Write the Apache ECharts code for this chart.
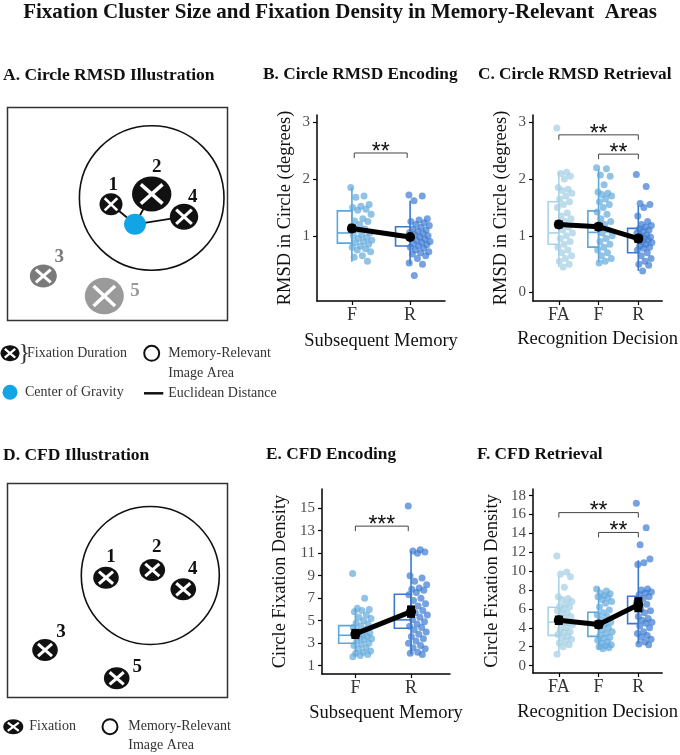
<!DOCTYPE html>
<html>
<head>
<meta charset="utf-8">
<title>Fixation Cluster Size and Fixation Density</title>
<script src="https://cdn.jsdelivr.net/npm/echarts@6/dist/echarts.min.js"></script>
<style>
html, body { margin: 0; padding: 0; background: #fff; }
#main { width: 680px; height: 755px; }
</style>
</head>
<body>
<div id="main"></div>
<script>
// ---- values ----
// B. Circle RMSD Encoding
var encCats = ['F', 'R'];
var rmsdEncF = [1.85, 1.7, 1.68, 1.55, 1.52, 1.5, 1.47, 1.45, 1.38, 1.3, 1.26, 1.25, 1.2, 1.17, 1.12, 1.1, 1.05,
  1.02, 1.0, 0.97, 0.95, 0.92, 0.9, 0.88, 0.85, 0.82, 0.8, 0.77, 0.75, 0.72, 0.65, 0.62, 0.55];
var rmsdEncR = [1.72, 1.7, 1.62, 1.3, 1.28, 1.25, 1.23, 1.2, 1.18, 1.15, 1.12, 1.1, 1.08, 1.06, 1.04, 1.02, 1.0,
  0.98, 0.96, 0.94, 0.92, 0.9, 0.88, 0.86, 0.84, 0.82, 0.8, 0.78, 0.75, 0.72, 0.7, 0.68, 0.65, 0.6, 0.52, 0.5, 0.3];
// q1, median, q3, whisker low, whisker high
var rmsdEncBox = [[0.87, 1.05, 1.44, 0.54, 1.85], [0.82, 0.98, 1.16, 0.5, 1.62]];
var rmsdEncMean = [1.13, 0.98];
var rmsdEncSe = [0.07, 0.05];
var rmsdEncSig = [[1.04, 1.95, 2.46]];
var rmsdEncStars = ['**'];

// C. Circle RMSD Retrieval
var retCats = ['FA', 'F', 'R'];
var rmsdRetFA = [2.9, 2.12, 2.1, 2.05, 2.0, 1.85, 1.82, 1.8, 1.75, 1.7, 1.65, 1.6, 1.55, 1.5, 1.4, 1.35, 1.3,
  1.25, 1.2, 1.15, 1.1, 1.05, 1.0, 0.95, 0.9, 0.85, 0.8, 0.75, 0.7, 0.65, 0.6, 0.55, 0.5, 0.45];
var rmsdRetF = [2.2, 2.18, 2.07, 2.05, 1.9, 1.77, 1.75, 1.73, 1.7, 1.65, 1.6, 1.55, 1.5, 1.42, 1.38, 1.3, 1.25,
  1.2, 1.15, 1.1, 1.05, 1.0, 0.95, 0.9, 0.85, 0.8, 0.75, 0.7, 0.65, 0.6, 0.55, 0.52];
var rmsdRetR = [2.08, 1.87, 1.57, 1.55, 1.5, 1.35, 1.25, 1.2, 1.18, 1.15, 1.12, 1.1, 1.08, 1.05, 1.02, 1.0, 0.98,
  0.96, 0.94, 0.92, 0.9, 0.88, 0.85, 0.82, 0.8, 0.78, 0.75, 0.7, 0.65, 0.6, 0.55, 0.5, 0.48, 0.38];
var rmsdRetBox = [[0.85, 1.05, 1.6, 0.45, 2.12], [0.8, 1.06, 1.44, 0.53, 2.18], [0.7, 0.98, 1.13, 0.38, 1.53]];
var rmsdRetMean = [1.2, 1.16, 0.95];
var rmsdRetSe = [0.07, 0.07, 0.07];
var rmsdRetSig = [[1, 3, 2.78], [2, 3, 2.44]];
var rmsdRetStars = ['**', '**'];

// E. CFD Encoding
var cfdEncF = [9.2, 7.0, 6.1, 6.0, 5.9, 5.8, 5.5, 5.3, 5.2, 5.0, 4.8, 4.7, 4.5, 4.4, 4.2, 4.0, 3.9, 3.8, 3.7,
  3.6, 3.5, 3.4, 3.3, 3.2, 3.0, 2.9, 2.8, 2.6, 2.5, 2.3, 2.2, 2.1, 2.0, 1.9, 1.8];
var cfdEncR = [15.2, 11.3, 11.2, 11.1, 11.0, 9.0, 8.8, 8.5, 8.2, 7.9, 7.8, 7.7, 7.5, 7.3, 7.0, 6.8, 6.5, 6.3,
  6.1, 5.9, 5.7, 5.5, 5.3, 5.1, 4.9, 4.7, 4.5, 4.4, 4.2, 4.0, 3.8, 3.6, 3.4, 3.2, 3.0, 2.8, 2.6, 2.5, 2.2, 2.1, 2.0];
var cfdEncBox = [[2.99, 3.7, 4.56, 1.8, 6.1], [4.33, 5.07, 7.35, 2.0, 11.2]];
var cfdEncMean = [3.82, 5.8];
var cfdEncSe = [0.45, 0.55];
var cfdEncSig = [[1.0, 1.95, 13.4]];
var cfdEncStars = ['***'];

// F. CFD Retrieval
var cfdRetFA = [11.6, 9.9, 9.7, 9.4, 8.3, 7.3, 7.1, 7.0, 6.8, 6.5, 6.3, 6.2, 6.0, 5.8, 5.6, 5.5, 5.2, 5.0, 4.8,
  4.6, 4.5, 4.3, 4.0, 3.8, 3.6, 3.5, 3.3, 3.1, 3.0, 2.8, 2.6, 2.4, 2.2, 2.0, 1.2];
var cfdRetF = [8.1, 7.9, 7.7, 7.6, 7.4, 7.3, 7.2, 7.0, 6.8, 6.6, 6.2, 5.9, 5.6, 5.4, 5.2, 4.9, 4.6, 4.4, 4.2,
  4.0, 3.8, 3.6, 3.4, 3.2, 3.0, 2.9, 2.7, 2.5, 2.4, 2.2, 2.1, 2.0, 1.9, 1.8];
var cfdRetR = [17.2, 14.6, 12.8, 11.3, 10.9, 10.7, 8.1, 8.0, 7.8, 7.7, 7.5, 7.3, 7.1, 6.8, 6.5, 6.0, 5.8, 5.6,
  5.2, 5.0, 4.8, 4.6, 4.5, 4.2, 4.0, 3.6, 3.4, 3.2, 3.0, 2.8, 2.5, 2.3, 2.2];
var cfdRetBox = [[3.2, 4.6, 6.18, 1.4, 9.5], [3.1, 4.45, 5.65, 1.7, 8.3], [4.45, 6.0, 7.35, 2.3, 11.15]];
var cfdRetMean = [4.8, 4.35, 6.45];
var cfdRetSe = [0.5, 0.45, 0.8];
var cfdRetSig = [[1, 3, 16.2], [2, 3, 14.1]];
var cfdRetStars = ['**', '**'];

// ---- styling ----
var SERIF = '"Liberation Serif", "DejaVu Serif", serif';
var ptCol = { FA: '#a3cfe4', F: '#62aadc', R: '#3c7bd1' };
var boxCol = { FA: '#a9d4e8', F: '#5aa8dc', R: '#3a78d0' };

var panels = [
  { grid: { left: 317, top: 115, width: 128, height: 186 }, x: [0.4, 2.6], y: [-0.15, 3.13], yt: [1, 2, 3],
    cats: encCats, groups: [rmsdEncF, rmsdEncR], box: rmsdEncBox, mean: rmsdEncMean, se: rmsdEncSe,
    sig: rmsdEncSig, stars: rmsdEncStars, bw: 0.25, jit: [-0.02, 0.35],
    xname: 'Subsequent Memory', yname: 'RMSD in Circle (degrees)', xgap: 31, ygap: 22 },
  { grid: { left: 533, top: 115, width: 130, height: 186 }, x: [0.35, 3.6], y: [-0.15, 3.13], yt: [0, 1, 2, 3],
    cats: retCats, groups: [rmsdRetFA, rmsdRetF, rmsdRetR], box: rmsdRetBox, mean: rmsdRetMean, se: rmsdRetSe,
    sig: rmsdRetSig, stars: rmsdRetStars, bw: 0.27, jit: [-0.05, 0.35],
    xname: 'Recognition Decision', yname: 'RMSD in Circle (degrees)', xgap: 29, ygap: 22 },
  { grid: { left: 322, top: 489, width: 128, height: 185 }, x: [0.4, 2.7], y: [0.26, 16.7], yt: [1, 3, 5, 7, 9, 11, 13, 15],
    cats: encCats, groups: [cfdEncF, cfdEncR], box: cfdEncBox, mean: cfdEncMean, se: cfdEncSe,
    sig: cfdEncSig, stars: cfdEncStars, bw: 0.3, jit: [-0.05, 0.3],
    xname: 'Subsequent Memory', yname: 'Circle Fixation Density', xgap: 30, ygap: 32 },
  { grid: { left: 533, top: 489, width: 130, height: 184 }, x: [0.35, 3.6], y: [-0.78, 18.7], yt: [0, 2, 4, 6, 8, 10, 12, 14, 16, 18],
    cats: retCats, groups: [cfdRetFA, cfdRetF, cfdRetR], box: cfdRetBox, mean: cfdRetMean, se: cfdRetSe,
    sig: cfdRetSig, stars: cfdRetStars, bw: 0.27, jit: [-0.05, 0.35],
    xname: 'Recognition Decision', yname: 'Circle Fixation Density', xgap: 30, ygap: 31 }
];

function boxRenderer(bw, color) {
  return function (params, api) {
    var x = api.value(0);
    var a = api.coord([x - bw, api.value(1)]);
    var b = api.coord([x, api.value(3)]);
    var m0 = api.coord([x - bw, api.value(2)]);
    var m1 = api.coord([x, api.value(2)]);
    var lo = api.coord([x, api.value(4)]);
    var hi = api.coord([x, api.value(5)]);
    var st = { stroke: color, lineWidth: 1.6, fill: null };
    return { type: 'group', children: [
      { type: 'line', shape: { x1: lo[0], y1: lo[1], x2: hi[0], y2: hi[1] }, style: st },
      { type: 'rect', shape: { x: a[0], y: b[1], width: b[0] - a[0], height: a[1] - b[1] }, style: st },
      { type: 'line', shape: { x1: m0[0], y1: m0[1], x2: m1[0], y2: m1[1] }, style: st }
    ] };
  };
}

function errRenderer(params, api) {
  var x = api.value(0);
  var a = api.coord([x, api.value(1)]);
  var b = api.coord([x, api.value(2)]);
  return { type: 'rect', shape: { x: a[0] - 4, y: b[1], width: 8, height: a[1] - b[1] }, style: { fill: '#000' } };
}

function sigRenderer(stars) {
  return function (params, api) {
    var a = api.coord([api.value(0), api.value(2)]);
    var b = api.coord([api.value(1), api.value(2)]);
    return { type: 'group', children: [
      { type: 'polyline', shape: { points: [[a[0], a[1] + 5], [a[0], a[1]], [b[0], b[1]], [b[0], b[1] + 5]] },
        style: { stroke: '#444', lineWidth: 1, fill: null } },
      { type: 'text', x: (a[0] + b[0]) / 2, y: a[1] - 0.5,
        style: { text: stars[params.dataIndex], font: '23px "Liberation Sans"', fill: '#111',
          align: 'center', verticalAlign: 'middle', textAlign: 'center', textVerticalAlign: 'middle' } }
    ] };
  };
}

// golden-ratio jitter so points spread to the right of each category
function jitter(i, range) {
  return range[0] + ((i * 0.618034) % 1) * (range[1] - range[0]);
}

var grids = [], xAxes = [], yAxes = [], series = [];
panels.forEach(function (p, k) {
  grids.push(p.grid);
  var xt = p.cats.map(function (c, i) { return i + 1; });
  xAxes.push({
    gridIndex: k, type: 'value', min: p.x[0], max: p.x[1],
    axisLine: { show: true, onZero: false, lineStyle: { color: '#000', width: 1.5 } },
    axisTick: { show: true, customValues: xt, length: 4, lineStyle: { color: '#000', width: 1.2 } },
    axisLabel: { customValues: xt, margin: 5, fontFamily: SERIF, fontSize: 18, color: '#333',
      formatter: (function (cats) { return function (v) { return cats[Math.round(v) - 1]; }; })(p.cats) },
    splitLine: { show: false },
    name: p.xname, nameLocation: 'middle', nameGap: p.xgap,
    nameTextStyle: { fontFamily: SERIF, fontSize: 18.5, color: '#111' }
  });
  yAxes.push({
    gridIndex: k, type: 'value', min: p.y[0], max: p.y[1],
    axisLine: { show: true, onZero: false, lineStyle: { color: '#000', width: 1.5 } },
    axisTick: { show: true, customValues: p.yt, length: 4, lineStyle: { color: '#000', width: 1.2 } },
    axisLabel: { customValues: p.yt, margin: 7, fontFamily: SERIF, fontSize: 15, color: '#4d4d4d' },
    splitLine: { show: false },
    name: p.yname, nameLocation: 'middle', nameGap: p.ygap,
    nameTextStyle: { fontFamily: SERIF, fontSize: 18.5, color: '#111' }
  });

  p.groups.forEach(function (vals, g) {
    var key = p.cats[g];
    var b = p.box[g];
    series.push({
      type: 'custom', xAxisIndex: k, yAxisIndex: k, z: 2, silent: true,
      renderItem: boxRenderer(p.bw, boxCol[key]),
      data: [[g + 1, b[0], b[1], b[2], b[3], b[4]]]
    });
    series.push({
      type: 'scatter', xAxisIndex: k, yAxisIndex: k, z: 3, symbolSize: 7,
      itemStyle: { color: ptCol[key], opacity: 0.7 },
      data: vals.map(function (v, i) { return [g + 1 + jitter(i, p.jit), v]; })
    });
  });

  series.push({
    type: 'custom', xAxisIndex: k, yAxisIndex: k, z: 5, renderItem: errRenderer,
    data: p.mean.map(function (m, g) { return [g + 1, m - p.se[g], m + p.se[g]]; })
  });
  series.push({
    type: 'line', xAxisIndex: k, yAxisIndex: k, z: 6, symbol: 'circle', symbolSize: 10,
    lineStyle: { color: '#000', width: 5 }, itemStyle: { color: '#000' },
    data: p.mean.map(function (m, g) { return [g + 1, m]; })
  });
  series.push({
    type: 'custom', xAxisIndex: k, yAxisIndex: k, z: 4, renderItem: sigRenderer(p.stars),
    data: p.sig
  });
});

// ---- illustrations (panels A and D) ----
function txt(x, y, s, size, o) {
  o = o || {};
  return { type: 'text', x: x, y: y, z: 10,
    style: { text: s, font: (o.bold ? 'bold ' : '') + size + 'px ' + SERIF, fill: o.color || '#111',
      align: o.align || 'left', verticalAlign: 'middle', textAlign: o.align || 'left', textVerticalAlign: 'middle' } };
}
function fix(cx, cy, rx, ry, fill, lw) {
  var dx = rx * 0.55, dy = ry * 0.55;
  return [
    { type: 'ellipse', z: 10, shape: { cx: cx, cy: cy, rx: rx, ry: ry }, style: { fill: fill } },
    { type: 'line', z: 11, shape: { x1: cx - dx, y1: cy - dy, x2: cx + dx, y2: cy + dy }, style: { stroke: '#fff', lineWidth: lw } },
    { type: 'line', z: 11, shape: { x1: cx - dx, y1: cy + dy, x2: cx + dx, y2: cy - dy }, style: { stroke: '#fff', lineWidth: lw } }
  ];
}
function seg(x1, y1, x2, y2, w) {
  return { type: 'line', z: 9, shape: { x1: x1, y1: y1, x2: x2, y2: y2 }, style: { stroke: '#111', lineWidth: w } };
}
function ring(cx, cy, r, w) {
  return { type: 'circle', z: 9, shape: { cx: cx, cy: cy, r: r }, style: { fill: null, stroke: '#111', lineWidth: w } };
}

var gfx = [
  txt(340, 13, 'Fixation Cluster Size and Fixation Density in Memory-Relevant  Areas', 21, { bold: true, align: 'center' }),
  txt(3, 75, 'A. Circle RMSD Illustration', 17.5, { bold: true }),
  txt(263, 75, 'B. Circle RMSD Encoding', 17.3, { bold: true }),
  txt(478, 75, 'C. Circle RMSD Retrieval', 17.3, { bold: true }),
  txt(3, 455, 'D. CFD Illustration', 17.5, { bold: true }),
  txt(266, 455, 'E. CFD Encoding', 17.3, { bold: true }),
  txt(477, 455, 'F. CFD Retrieval', 17.3, { bold: true }),

  // A
  { type: 'rect', z: 8, shape: { x: 7.5, y: 107.5, width: 220, height: 213 }, style: { fill: null, stroke: '#333', lineWidth: 1.5 } },
  ring(151.7, 198, 72.3, 1.6),
  seg(135, 224.3, 111, 204.3, 1.8), seg(135, 224.3, 151.7, 194, 1.8), seg(135, 224.3, 184, 216.7, 1.8),
  { type: 'ellipse', z: 10, shape: { cx: 135, cy: 224.3, rx: 11, ry: 10.5 }, style: { fill: '#12a5e6' } },
  txt(113.3, 185, '1', 19, { bold: true, align: 'center' }),
  txt(156.7, 167, '2', 19, { bold: true, align: 'center' }),
  txt(192.7, 197, '4', 19, { bold: true, align: 'center' }),
  txt(59.3, 257, '3', 19, { bold: true, align: 'center', color: '#7a7a7a' }),
  txt(135, 291, '5', 19, { bold: true, align: 'center', color: '#9a9a9a' }),
  // A legend
  txt(18.5, 353.5, '}', 24, { color: '#333' }),
  txt(27, 353.3, 'Fixation Duration', 14, { color: '#333' }),
  ring(151.7, 353.3, 7.5, 2),
  txt(168.3, 353.3, 'Memory-Relevant', 14, { color: '#333' }),
  txt(168.3, 373.3, 'Image Area', 14, { color: '#333' }),
  { type: 'circle', z: 10, shape: { cx: 10, cy: 392.3, r: 7.5 }, style: { fill: '#12a5e6' } },
  txt(25, 392.3, 'Center of Gravity', 14, { color: '#333' }),
  seg(144, 393.3, 163.3, 393.3, 2.5),
  txt(168.3, 393.3, 'Euclidean Distance', 14, { color: '#333' }),

  // D
  { type: 'rect', z: 8, shape: { x: 7.5, y: 483.5, width: 220, height: 214 }, style: { fill: null, stroke: '#333', lineWidth: 1.5 } },
  ring(150.3, 575.5, 69, 1.6),
  txt(111, 557, '1', 19, { bold: true, align: 'center' }),
  txt(156.7, 547, '2', 19, { bold: true, align: 'center' }),
  txt(192.7, 569.3, '4', 19, { bold: true, align: 'center' }),
  txt(61, 632, '3', 19, { bold: true, align: 'center' }),
  txt(137.3, 667, '5', 19, { bold: true, align: 'center' }),
  // D legend
  txt(29.3, 726.7, 'Fixation', 14, { color: '#333' }),
  ring(110, 726.7, 7.5, 2),
  txt(128.3, 726.7, 'Memory-Relevant', 14, { color: '#333' }),
  txt(128.3, 745.5, 'Image Area', 14, { color: '#333' })
];
gfx = gfx.concat(
  fix(111, 204.3, 11.5, 11, '#111', 2.5),
  fix(151.7, 194, 19.7, 17.5, '#111', 3.5),
  fix(184, 216.7, 14.2, 13, '#111', 3),
  fix(43.3, 276, 13.5, 11.5, '#7a7a7a', 3),
  fix(104.3, 296, 19.5, 18.3, '#9a9a9a', 3.5),
  fix(10, 353.3, 9.5, 8, '#111', 2.2),
  fix(106, 577.7, 12.8, 11, '#111', 3),
  fix(152.3, 570, 12.8, 11, '#111', 3),
  fix(183.3, 589.3, 12.8, 11, '#111', 3),
  fix(45, 650, 12.8, 11, '#111', 3),
  fix(116.7, 678.3, 12.8, 11, '#111', 3),
  fix(13.3, 726.7, 10, 7.5, '#111', 2.2)
);

var myChart = echarts.init(document.getElementById('main'), null, { renderer: 'canvas' });
myChart.setOption({
  backgroundColor: '#fff',
  animation: false,
  grid: grids,
  xAxis: xAxes,
  yAxis: yAxes,
  series: series,
  graphic: { elements: gfx }
});
</script>
</body>
</html>
